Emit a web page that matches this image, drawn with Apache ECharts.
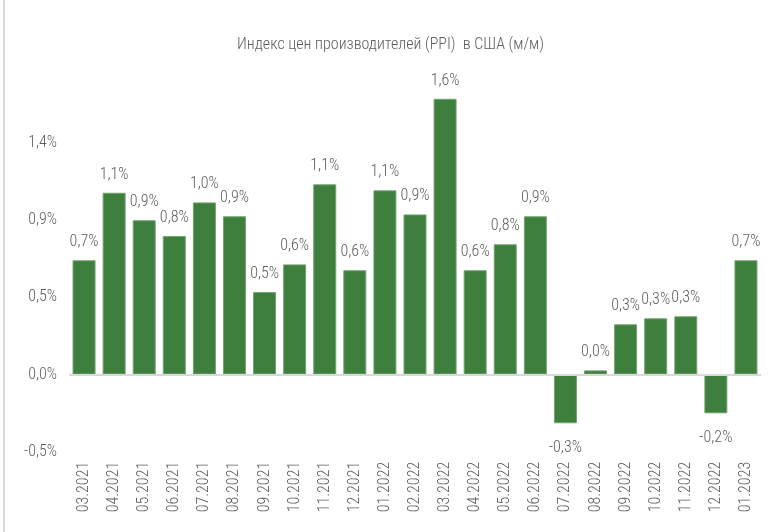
<!DOCTYPE html>
<html>
<head>
<meta charset="utf-8">
<script src="https://cdn.jsdelivr.net/npm/echarts@6/dist/echarts.min.js"></script>
<style>
html,body{margin:0;padding:0;background:#fff;}
#wrap{position:relative;width:781px;height:532px;}
#edge{position:absolute;left:3px;top:0;width:2px;height:532px;background:#d9d9d9;}
#chart{position:absolute;left:0;top:0;width:781px;height:532px;}
</style>
</head>
<body>
<div id="wrap"><div id="edge"></div><div id="chart"></div></div>
<script>
const titleText = 'Индекс цен производителей (PPI)  в США (м/м)';
const categories = ['03.2021','04.2021','05.2021','06.2021','07.2021','08.2021','09.2021','10.2021','11.2021','12.2021',
  '01.2022','02.2022','03.2022','04.2022','05.2022','06.2022','07.2022','08.2022','09.2022','10.2022','11.2022','12.2022','01.2023'];
const values = [0.665, 1.058, 0.898, 0.806, 1.002, 0.921, 0.480, 0.641, 1.107, 0.607,
  1.072, 0.932, 1.605, 0.607, 0.758, 0.921, -0.284, 0.024, 0.292, 0.327, 0.339, -0.226, 0.665];
const yTicks = [-0.45, 0, 0.45, 0.9, 1.35];
const yTickLabels = ['-0,5%', '0,0%', '0,5%', '0,9%', '1,4%'];

const FONT = '"Roboto Condensed", Roboto, sans-serif';
const TXT = '#5e5e5e';

function fmtPct(v){ return v.toFixed(1).replace('.', ',') + '%'; }

const chart = echarts.init(document.getElementById('chart'), null, {renderer:'canvas'});
chart.setOption({
  animation: false,
  backgroundColor: 'transparent',
  title: {
    text: titleText, left: 'center', top: 32,
    textStyle: {fontFamily: FONT, fontSize: 16, fontWeight: 300, color: TXT}
  },
  grid: {left: 69, right: 20, top: 65.3, bottom: 80.2, containLabel: false},
  xAxis: {
    type: 'category', data: categories,
    axisLine: {show: false}, axisTick: {show: false},
    axisLabel: {rotate: 90, margin: 10, interval: 0, fontFamily: FONT, fontSize: 16, fontWeight: 300, color: TXT}
  },
  yAxis: {
    type: 'value', min: -0.45, max: 1.8, interval: 0.45,
    splitLine: {show: false}, axisLine: {show: false}, axisTick: {show: false},
    axisLabel: {
      margin: 12, showMaxLabel: false, fontFamily: FONT, fontSize: 16, fontWeight: 300, color: TXT,
      formatter: function(v){
        let best = -1, bd = 1e9;
        yTicks.forEach((t,i)=>{ const d = Math.abs(t - v); if (d < bd){bd = d; best = i;} });
        return bd < 0.01 ? yTickLabels[best] : '';
      }
    }
  },
  series: [{
    type: 'bar',
    barWidth: 23,
    data: values.map(v => ({
      value: v,
      label: v < 0 ? {position: 'bottom', distance: 17} : {position: 'top', distance: 10}
    })),
    itemStyle: {color: '#3e7f3e', borderColor: '#73a373', borderWidth: 1},
    label: {
      show: true, fontFamily: FONT, fontSize: 16, fontWeight: 300, color: TXT,
      formatter: p => fmtPct(p.value)
    },
    markLine: {
      silent: true, symbol: 'none', animation: false,
      label: {show: false},
      lineStyle: {color: '#d9d9d9', width: 2, type: 'solid'},
      data: [{yAxis: 0}]
    }
  }]
});
</script>
</body>
</html>
